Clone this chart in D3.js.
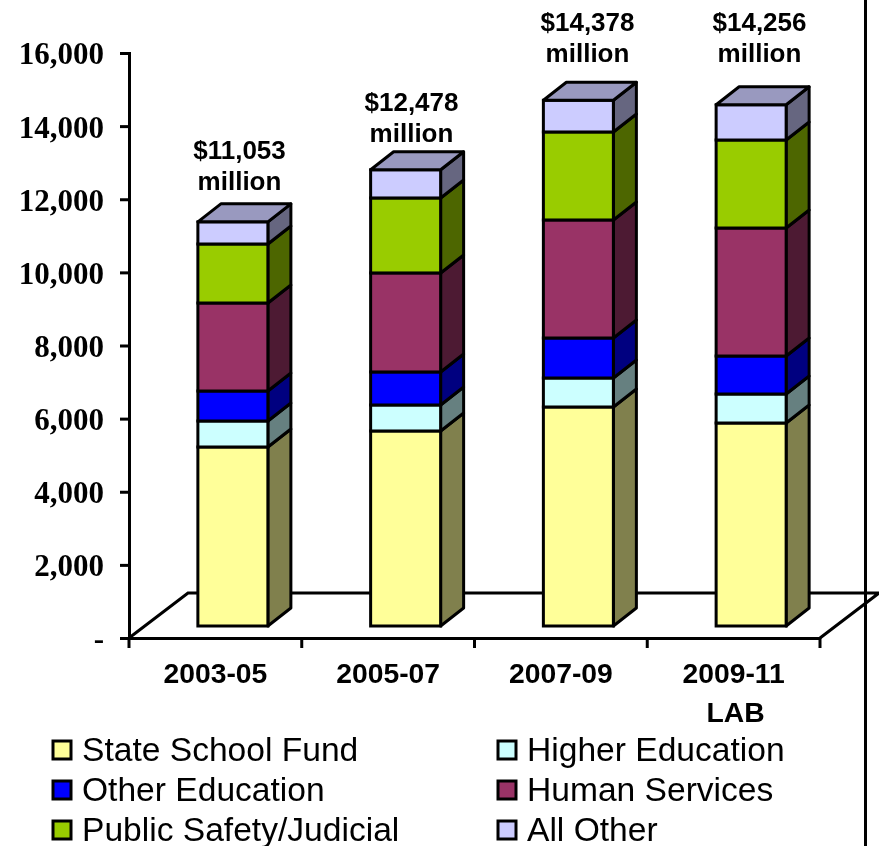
<!DOCTYPE html>
<html><head><meta charset="utf-8">
<script src="https://cdnjs.cloudflare.com/ajax/libs/d3/7.8.5/d3.min.js"></script>
<style>html,body{margin:0;padding:0;background:#fff}svg{display:block;filter:blur(0.4px)}</style>
</head><body><svg id="c" width="879" height="846"></svg>
<script>
const periods = ["2003-05","2005-07","2007-09","2009-11"];
const seriesNames = ["State School Fund","Higher Education","Other Education","Human Services","Public Safety/Judicial","All Other"];
const stateSchoolFund = [4896,5334,5990,5552];
const higherEducation = [711,711,793,793];
const otherEducation = [820,903,1094,1039];
const humanServices = [2407,2708,3228,3501];
const publicSafety = [1614,2051,2407,2407];
const allOther = [605,771,866,964];
const totalLabels = ["$11,053","$12,478","$14,378","$14,256"];
const yTicks = [0,2000,4000,6000,8000,10000,12000,14000,16000];
const frontColors = ["#FFFF99","#CCFFFF","#0000FF","#993366","#99CC00","#CCCCFF"];
const sideColors = ["#80804D","#668080","#000080","#4D1A33","#4D6600","#666680"];
const topColor = "#9999BF";
const values = [stateSchoolFund,higherEducation,otherEducation,humanServices,publicSafety,allOther];
const labelCenters = [239.5,411.5,587.5,759.5];
const labelBaselines = [159,111,31,31];

const svg = d3.select("#c");
const axisX0 = 129, axisX1 = 820, axisY0 = 638, axisY1 = 53;
const floorDx = 59, floorDy = -45, barDx = 23, barDy = -18, frontGapY = -12;
const x = d3.scaleBand().domain(periods).range([axisX0,axisX1]);
const y = d3.scaleLinear().domain([0,16000]).range([axisY0,axisY1]);
const barW = 70;
const bx = p => x(p) + x.bandwidth()/2 + 17.5 - barW/2;
const by = v => y(v) + frontGapY;
const ink = "#000";

// floor
svg.append("path").attr("fill","#fff").attr("stroke",ink).attr("stroke-width",3)
  .attr("d",`M${axisX0},${axisY0}L${axisX0+floorDx},${axisY0+floorDy}L${axisX1+floorDx},${axisY0+floorDy}L${axisX1},${axisY0}`);

// y axis
const yAxis = d3.axisLeft(y).tickValues(yTicks).tickSize(9).tickPadding(16)
  .tickFormat(d => d===0 ? "-" : d3.format(",")(d));
const gy = svg.append("g").attr("transform",`translate(${axisX0},0)`).call(yAxis);
gy.select(".domain").attr("stroke",ink).attr("stroke-width",3);
gy.selectAll(".tick line").attr("stroke",ink).attr("stroke-width",3);
gy.selectAll("text").attr("font-family","'Liberation Serif'").attr("font-weight","bold").attr("font-size",31).attr("fill",ink).attr("transform","translate(0,1)");

// x axis
const xAxis = d3.axisBottom(x).tickSize(0).tickPadding(25);
const gx = svg.append("g").attr("transform",`translate(0,${axisY0})`).call(xAxis);
gx.select(".domain").attr("stroke",ink).attr("stroke-width",3);
gx.selectAll("text").attr("font-family","'Liberation Sans'").attr("font-weight","bold").attr("font-size",28.3).attr("fill",ink);
gx.selectAll(".sep").data(x.domain().map(d=>x(d)).concat([axisX1])).enter().append("line").attr("class","sep")
  .attr("x1",d=>d).attr("x2",d=>d).attr("y1",0).attr("y2",10).attr("stroke",ink).attr("stroke-width",3);
svg.append("text").attr("x",x("2009-11")+x.bandwidth()/2+2).attr("y",722).attr("text-anchor","middle")
  .attr("font-family","'Liberation Sans'").attr("font-weight","bold").attr("font-size",28.3).text("LAB");

// bars
periods.forEach((p,i)=>{
  const g = svg.append("g");
  let cum = 0;
  const L = bx(p), R = L+barW;
  values.forEach((s,k)=>{
    const v0 = cum, v1 = cum + s[i]; cum = v1;
    const yb = by(v0), yt = by(v1);
    g.append("path").attr("fill",sideColors[k]).attr("stroke",ink).attr("stroke-width",3).attr("stroke-linejoin","round")
      .attr("d",`M${R},${yb}L${R+barDx},${yb+barDy}L${R+barDx},${yt+barDy}L${R},${yt}Z`);
    g.append("rect").attr("x",L).attr("y",yt).attr("width",barW).attr("height",yb-yt)
      .attr("fill",frontColors[k]).attr("stroke",ink).attr("stroke-width",3);
    if(k===values.length-1){
      g.append("path").attr("fill",topColor).attr("stroke",ink).attr("stroke-width",3).attr("stroke-linejoin","round")
        .attr("d",`M${L},${yt}L${L+barDx},${yt+barDy}L${R+barDx},${yt+barDy}L${R},${yt}Z`);
    }
  });
  const t = svg.append("text").attr("text-anchor","middle").attr("font-family","'Liberation Sans'")
    .attr("font-weight","bold").attr("font-size",26).attr("fill",ink);
  t.append("tspan").attr("x",labelCenters[i]).attr("y",labelBaselines[i]).text(totalLabels[i]);
  t.append("tspan").attr("x",labelCenters[i]).attr("y",labelBaselines[i]+31).text("million");
});

// right border
svg.append("line").attr("x1",865.5).attr("x2",865.5).attr("y1",0).attr("y2",846).attr("stroke",ink).attr("stroke-width",3);

// legend
const legendCols = [53,498], legendRows = [750,790,830];
seriesNames.forEach((n,i)=>{
  const lx = legendCols[i%2], ly = legendRows[Math.floor(i/2)];
  svg.append("rect").attr("x",lx).attr("y",ly-9).attr("width",18).attr("height",18)
    .attr("fill",frontColors[i]).attr("stroke",ink).attr("stroke-width",3);
  svg.append("text").attr("x",lx+29).attr("y",ly+11).attr("font-family","'Liberation Sans'")
    .attr("font-size",33.6).attr("fill",ink).text(n);
});
</script></body></html>
